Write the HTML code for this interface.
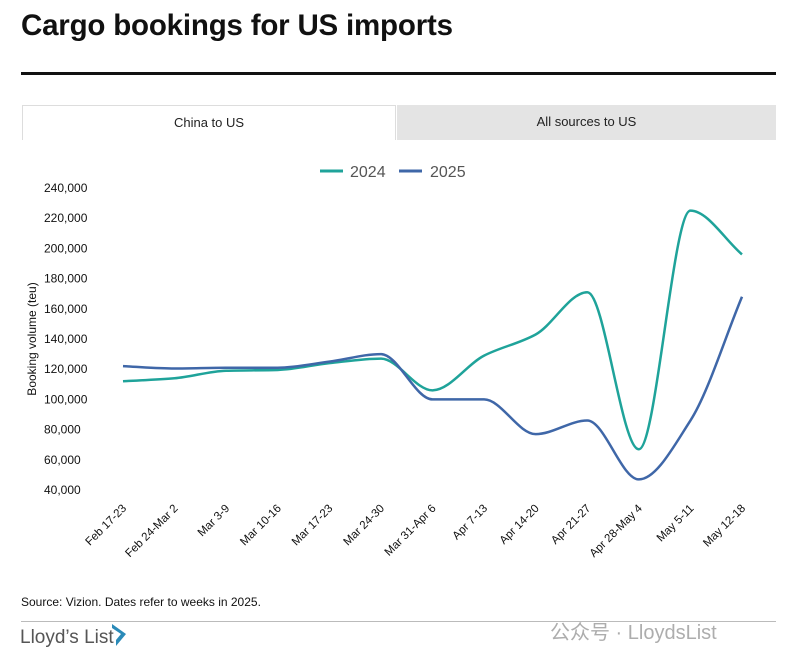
<!DOCTYPE html>
<html><head><meta charset="utf-8"><style>
body{margin:0;width:800px;height:662px;background:#fff;font-family:"Liberation Sans","Noto Sans CJK SC",sans-serif;position:relative;overflow:hidden}
.abs{position:absolute}
</style></head><body>
<div class="abs" style="left:21px;top:9px;font-size:29.5px;font-weight:bold;color:#111;letter-spacing:-0.2px">Cargo bookings for US imports</div>
<div class="abs" style="left:21px;top:72px;width:755px;height:3px;background:#111"></div>
<div class="abs" style="left:22px;top:105px;width:374px;height:35px;background:#fff;border:1px solid #ddd;border-bottom:none;box-sizing:border-box;font-size:13px;color:#222;text-align:center;line-height:34px">China to US</div>
<div class="abs" style="left:397px;top:105px;width:379px;height:35px;background:#e4e4e4;font-size:13px;color:#222;text-align:center;line-height:34px">All sources to US</div>
<svg class="abs" style="left:0;top:0" width="800" height="580" id="chart"></svg>
<div class="abs" style="left:21px;top:595px;font-size:12px;color:#111">Source: Vizion. Dates refer to weeks in 2025.</div>
<div class="abs" style="left:21px;top:621px;width:755px;height:1px;background:#bbb"></div>
<div class="abs" style="left:20px;top:627px;font-size:19px;color:#555">Lloyd’s List</div>
<svg class="abs" style="left:110px;top:622px" width="20" height="26"><polygon points="2,2 16,12 6,24 6,18 11,12 2,6" fill="#2a8ab8"/></svg>
<div class="abs" style="left:550px;top:616px;font-size:20px;color:#999;opacity:0.8">公众号 · LloydsList</div>
<script>
const categories=["Feb 17-23","Feb 24-Mar 2","Mar 3-9","Mar 10-16","Mar 17-23","Mar 24-30","Mar 31-Apr 6","Apr 7-13","Apr 14-20","Apr 21-27","Apr 28-May 4","May 5-11","May 12-18"];
const series2024=[112000,114000,119000,119500,124000,127000,106000,129000,143000,171000,67000,225000,196000];
const series2025=[122000,120500,121000,121000,125000,130000,100000,100000,77000,86000,47000,86000,168000];
const yTicks=[40000,60000,80000,100000,120000,140000,160000,180000,200000,220000,240000];
const NS="http://www.w3.org/2000/svg";
const svg=document.getElementById('chart');
const x=i=>123+i*(742-123)/(categories.length-1);
const y=v=>490-(v-40000)*(302/200000);
function mk(t,a){const e=document.createElementNS(NS,t);for(const k in a)e.setAttribute(k,a[k]);svg.appendChild(e);return e;}
yTicks.forEach(v=>{const t=mk('text',{x:44,y:y(v)+4,'font-size':12,fill:'#111'});t.textContent=v.toLocaleString('en-US');

});
const yt=mk('text',{transform:'translate(36,339) rotate(-90)','text-anchor':'middle','font-size':12,fill:'#111'});yt.textContent='Booking volume (teu)';


categories.forEach((c,i)=>{const t=mk('text',{transform:`translate(${x(i)+4},${509}) rotate(-45)`,'text-anchor':'end','font-size':11.5,fill:'#111'});t.textContent=c;

});
function monotone(xs,ys){const n=xs.length,d=[],m=[];for(let i=0;i<n-1;i++)d.push((ys[i+1]-ys[i])/(xs[i+1]-xs[i]));
m[0]=d[0];m[n-1]=d[n-2];for(let i=1;i<n-1;i++){if(d[i-1]*d[i]>0){const h=1/d[i-1],k=1/d[i];m[i]=2/(h+k);}else m[i]=0;}
let p=`M${xs[0]},${ys[0]}`;for(let i=0;i<n-1;i++){const h=(xs[i+1]-xs[i])/3;p+=` C${xs[i]+h},${ys[i]+m[i]*h} ${xs[i+1]-h},${ys[i+1]-m[i+1]*h} ${xs[i+1]},${ys[i+1]}`;}return p;}
function line(data,color,name){const xs=data.map((_,i)=>x(i)),ys=data.map(y);const p=mk('path',{d:monotone(xs,ys),fill:'none',stroke:color,'stroke-width':2.5});

}
line(series2024,'#1fa39a','line-2024');
line(series2025,'#3f67a8','line-2025');
mk('line',{x1:320,y1:171,x2:343,y2:171,stroke:'#1fa39a','stroke-width':3});
const l1=mk('text',{x:350,y:177,'font-size':16,fill:'#555'});l1.textContent='2024';


mk('line',{x1:399,y1:171,x2:422,y2:171,stroke:'#3f67a8','stroke-width':3});
const l2=mk('text',{x:430,y:177,'font-size':16,fill:'#555'});l2.textContent='2025';


</script>
</body></html>
